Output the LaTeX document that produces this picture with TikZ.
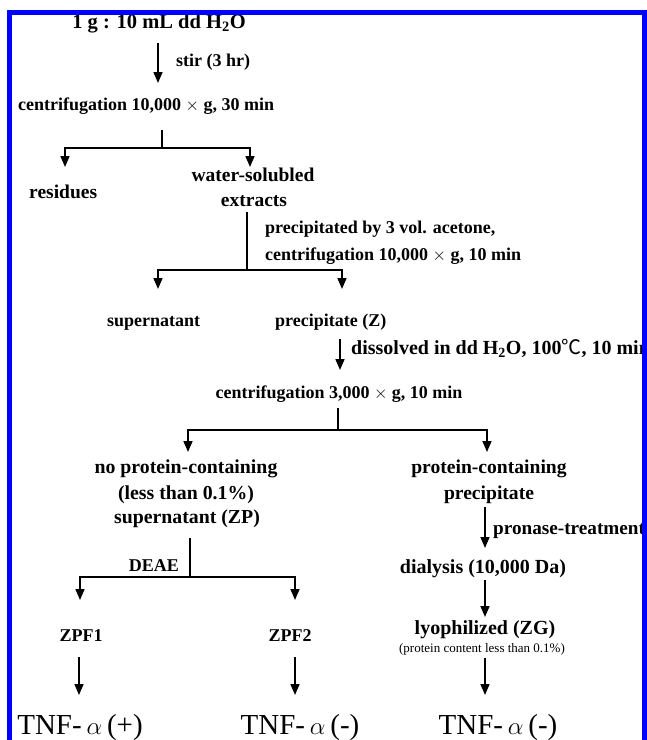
\documentclass[tikz,border=0pt]{standalone}
\usepackage{fontspec}
\setmainfont{Liberation Serif}
\newfontfamily\cjk{Noto Sans CJK SC}
\usetikzlibrary{arrows.meta}
\begin{document}
\begin{tikzpicture}[x=1pt,y=-1pt,
  lbl/.style={font=\bfseries\fontsize{18}{20}\selectfont, inner sep=0pt, anchor=base},
  big/.style={font=\bfseries\fontsize{#1}{20}\selectfont},
  lblw/.style={lbl, anchor=base west},
  note/.style={font=\fontsize{13}{15}\selectfont, inner sep=0pt, anchor=base},
  tnf/.style={font=\fontsize{29}{32}\selectfont, inner sep=0pt, anchor=base},
  ln/.style={line width=1.6pt},
  arr/.style={line width=1.6pt, -{Triangle[width=9pt,length=11pt]}},
  frame/.style={blue, line width=5pt}]
\clip (0,0) rectangle (647,740);
\fill[white] (0,0) rectangle (647,740);

% ---- text nodes
\node[lbl, big=20.5] (start) at (159,28) {1 g : 10 mL dd H\textsubscript{2}O};
\node[lblw] (stir) at (176,66) {stir (3 hr)};
\node[lblw] (cen1) at (18,110) {centrifugation 10,000 $\times$ g, 30 min};
\node[lblw, big=19.5] (res) at (29,198) {residues};
\node[lbl, big=19.5] (ws1) at (253,181) {water-solubled};
\node[lbl, big=19.5] (ws2) at (254,206) {extracts};
\node[lblw] (pa1) at (265,233) {precipitated by 3 vol. acetone,};
\node[lblw] (pa2) at (265,260) {centrifugation 10,000 $\times$ g, 10 min};
\node[lblw] (sup) at (107,326) {supernatant};
\node[lblw] (prz) at (275,326) {precipitate (Z)};
\node[lblw, big=20] (dis) at (351,354) {dissolved in dd H\textsubscript{2}O, 100{\mdseries\cjk ℃}, 10 min};
\node[lbl] (cen3) at (339,398) {centrifugation 3,000 $\times$ g, 10 min};
\node[lbl, big=19.8] (np1) at (186,473) {no protein-containing};
\node[lbl, big=19.8] (np2) at (186,499) {(less than 0.1\%)};
\node[lbl, big=19.8] (np3) at (187,523) {supernatant (ZP)};
\node[lbl, big=19.6] (pc1) at (489,473) {protein-containing};
\node[lbl, big=19.6] (pc2) at (489,499) {precipitate};
\node[lblw, big=19.2] (pro) at (493,534) {pronase-treatment};
\node[lbl, big=20] (dia) at (483,573) {dialysis (10,000 Da)};
\node[lbl, anchor=base east] (deae) at (179,571) {DEAE};
\node[lbl] (zpf1) at (81,641) {ZPF1};
\node[lbl] (zpf2) at (290,641) {ZPF2};
\node[lbl, big=20] (lyo) at (485,634) {lyophilized (ZG)};
\node[note] (pcn) at (482,652) {(protein content less than 0.1\%)};
\node[tnf] (tnf1) at (80,734) {TNF-\,$\alpha$\,(+)};
\node[tnf] (tnf2) at (300,734) {TNF-\,$\alpha$\,(-)};
\node[tnf] (tnf3) at (498,734) {TNF-\,$\alpha$\,(-)};

% ---- connector end points
\coordinate (a1s) at (158,43);  \coordinate (a1e) at (158,83);
\coordinate (f1t) at (162,130); \coordinate (f1m) at (162,148);
\coordinate (f1l) at (65,167);  \coordinate (f1r) at (250,167);
\coordinate (f2t) at (247,212); \coordinate (f2m) at (247,270);
\coordinate (f2l) at (158,289); \coordinate (f2r) at (342,289);
\coordinate (a2s) at (340,339); \coordinate (a2e) at (340,370);
\coordinate (f3t) at (338,408); \coordinate (f3m) at (338,430);
\coordinate (f3l) at (188,452); \coordinate (f3r) at (487,452);
\coordinate (a3s) at (485,507); \coordinate (a3e) at (485,548);
\coordinate (f4t) at (190,538); \coordinate (f4m) at (190,577);
\coordinate (f4l) at (80,600);  \coordinate (f4r) at (295,600);
\coordinate (a4s) at (485,580); \coordinate (a4e) at (485,617);
\coordinate (a5s) at (79,657);  \coordinate (a5e) at (79,695);
\coordinate (a6s) at (295,657); \coordinate (a6e) at (295,695);
\coordinate (a7s) at (485,658); \coordinate (a7e) at (485,695);

% ---- connectors
\draw[arr] (a1s) -- (a1e);
\draw[ln] (f1t) -- (f1m);
\draw[arr] (f1m) -| (f1l);
\draw[arr] (f1m) -| (f1r);
\draw[ln] (f2t) -- (f2m);
\draw[arr] (f2m) -| (f2l);
\draw[arr] (f2m) -| (f2r);
\draw[arr] (a2s) -- (a2e);
\draw[ln] (f3t) -- (f3m);
\draw[arr] (f3m) -| (f3l);
\draw[arr] (f3m) -| (f3r);
\draw[arr] (a3s) -- (a3e);
\draw[ln] (f4t) -- (f4m);
\draw[arr] (f4m) -| (f4l);
\draw[arr] (f4m) -| (f4r);
\draw[arr] (a4s) -- (a4e);
\draw[arr] (a5s) -- (a5e);
\draw[arr] (a6s) -- (a6e);
\draw[arr] (a7s) -- (a7e);

% ---- blue frame (open at the bottom)
\draw[frame] (7,12.5) -- (647,12.5);
\draw[frame] (9.5,10) -- (9.5,740);
\draw[frame] (644.5,10) -- (644.5,740);
\end{tikzpicture}
\end{document}
